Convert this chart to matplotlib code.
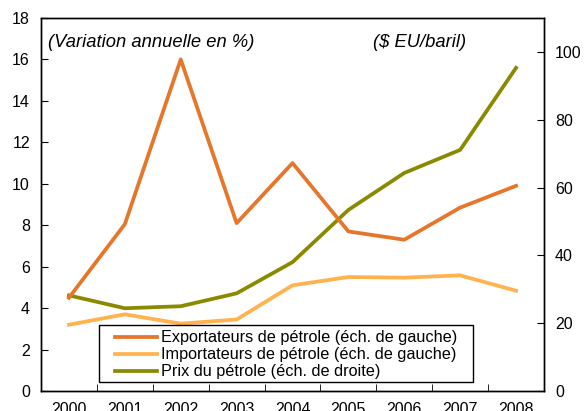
import matplotlib.pyplot as plt
from matplotlib.patches import Rectangle
import numpy as np

plt.rcParams['font.family'] = ['Liberation Sans', 'DejaVu Sans']

years = ['2000', '2001', '2002', '2003', '2004', '2005', '2006', '2007', '2008']
exportateurs = [4.5, 8.05, 16.0, 8.1, 11.0, 7.7, 7.3, 8.85, 9.9]
importateurs = [3.2, 3.7, 3.25, 3.45, 5.1, 5.5, 5.47, 5.58, 4.84]
prix_petrole = [28.2, 24.4, 25.0, 28.8, 38.0, 53.4, 64.3, 71.1, 95.3]

c_exp = '#E5762A'
c_imp = '#FFB24D'
c_prix = '#8A8A00'

fig = plt.figure(figsize=(5.86, 4.11), dpi=100)
ax = fig.add_axes([41 / 586, 20 / 411, 503 / 586, 373 / 411])
ax2 = ax.twinx()

x = np.arange(len(years))
l1, = ax.plot(x, exportateurs, color=c_exp, lw=2.7, label='Exportateurs de pétrole (éch. de gauche)')
l2, = ax.plot(x, importateurs, color=c_imp, lw=2.7, label='Importateurs de pétrole (éch. de gauche)')
l3, = ax2.plot(x, prix_petrole, color=c_prix, lw=2.7, label='Prix du pétrole (éch. de droite)')
ax.set_zorder(ax2.get_zorder() + 1)
ax.patch.set_visible(False)

ax.set_xlim(-0.5, len(years) - 0.5)
ax.set_ylim(0, 18)
ax.set_yticks(range(0, 19, 2))
ax2.set_ylim(0, 110)
ax2.set_yticks(range(0, 101, 20))

ax.set_xticks(x)
ax.set_xticklabels(years)
ax.set_xticks(np.arange(0.5, len(years) - 1, 1), minor=True)
ax.tick_params(axis='x', which='major', length=0, pad=8, labelsize=11.5)
ax.tick_params(axis='x', which='minor', direction='in', length=5)
ax.tick_params(axis='y', direction='in', length=5, labelsize=11.5, pad=8)
ax2.tick_params(axis='y', direction='in', length=5, labelsize=11.5, pad=8)
ax2.tick_params(axis='x', which='both', length=0)

for a in (ax, ax2):
    for s in a.spines.values():
        s.set_linewidth(1.0)

ax.text(0.013, 0.935, '(Variation annuelle en %)', transform=ax.transAxes,
        fontsize=13.2, style='italic', va='center', ha='left')
ax.text(0.660, 0.935, '($ EU/baril)', transform=ax.transAxes,
        fontsize=13.2, style='italic', va='center', ha='left')

# legend box drawn by hand (wider side padding than matplotlib's uniform borderpad)
ax.add_patch(Rectangle((0.1153, 0.0241), 0.7435, 0.1528, transform=ax.transAxes,
                       facecolor='white', edgecolor='black', lw=1.0, zorder=4))
leg = ax.legend(handles=[l1, l2, l3], loc='center left', bbox_to_anchor=(0.147, 0.097),
                fontsize=11.7, frameon=False, borderpad=0, labelspacing=0.12,
                handlelength=2.58, handletextpad=0.25, borderaxespad=0)
leg.set_zorder(5)

plt.savefig('out.png', dpi=100)
